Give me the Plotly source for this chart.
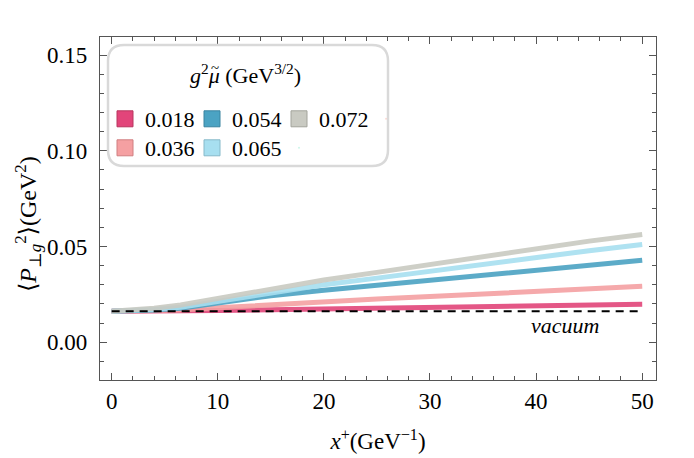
import plotly.graph_objects as go

# x+ grid (GeV^-1)
x_plus = [0, 2, 4, 6.5, 10, 15, 20, 25, 30, 35, 40, 45, 50]

# <P_perp g^2> (GeV^2) for each g^2 mu~
p_018 = [0.0162, 0.0162, 0.0163, 0.0164, 0.0166, 0.0170, 0.0174, 0.0178, 0.0183, 0.0187, 0.0192, 0.0195, 0.0198]
p_036 = [0.0162, 0.0163, 0.0165, 0.0169, 0.0180, 0.0197, 0.0213, 0.0226, 0.0239, 0.0252, 0.0266, 0.0279, 0.0292]
p_054 = [0.0162, 0.0164, 0.0168, 0.0177, 0.0204, 0.0243, 0.0272, 0.0298, 0.0322, 0.0350, 0.0376, 0.0402, 0.0428]
p_065 = [0.0162, 0.0165, 0.0171, 0.0183, 0.0215, 0.0260, 0.0300, 0.0335, 0.0372, 0.0408, 0.0443, 0.0478, 0.0511]
p_072 = [0.0162, 0.0168, 0.0178, 0.0195, 0.0228, 0.0275, 0.0325, 0.0365, 0.0405, 0.0445, 0.0490, 0.0528, 0.0563]
vacuum = [0.0162] * len(x_plus)

labels = ["0.018", "0.036", "0.054", "0.065", "0.072"]
series = [p_018, p_036, p_054, p_065, p_072]
colors = ["#e2457a", "#f5a0a2", "#4ba3c3", "#a7dff0", "#c9cac2"]
edges = ["#b8365f", "#d07f80", "#3a84a0", "#86b9c9", "#a3a49c"]
# which legend row each entry sits in (column-major layout of the original)
rows = ["legend", "legend2", "legend", "legend2", "legend"]

FONT = "'Liberation Serif', 'DejaVu Serif', serif"

# page body has an 8px margin, so the figure is a bit smaller than the window
OFF = 8
W, H = 694 - OFF, 458 - OFF
ml, mr, mt, mb = 100 - OFF, 38, 37 - OFF, 78
pw, ph = W - ml - mr, H - mt - mb
def px(x): return (x - OFF - ml) / pw        # screen px -> paper
def py(y): return (H - mb - (y - OFF)) / ph

fig = go.Figure()

for lab, ys, col in zip(labels, series, colors):
    fig.add_trace(go.Scatter(x=x_plus, y=ys, mode="lines", line=dict(color=col, width=5),
                             opacity=0.9, showlegend=False))

fig.add_trace(go.Scatter(x=x_plus, y=vacuum, mode="lines", showlegend=False,
                         line=dict(color="black", width=2, dash="8px,6px")))

# legend swatches
for lab, col, ed, lg in zip(labels, colors, edges, rows):
    fig.add_trace(go.Scatter(x=[None], y=[None], mode="markers", name=lab, legend=lg,
                             marker=dict(symbol="square", size=16, color=col,
                                         line=dict(color=ed, width=1))))
# blank entries so the last label of each row is not clipped
for lg in ["legend", "legend2"]:
    fig.add_trace(go.Scatter(x=[None], y=[None], mode="markers", name=" ", legend=lg,
                             marker=dict(size=1, opacity=0)))

fig.add_annotation(x=42.7, y=0.0085, text="<i>vacuum</i>", showarrow=False,
                   font=dict(family=FONT, size=22, color="black"))

# rounded legend frame
x0, x1, y0, y1, r = 108, 388, 45, 166, 16
path = (f"M {px(x0 + r)},{py(y0)} L {px(x1 - r)},{py(y0)} "
        f"Q {px(x1)},{py(y0)} {px(x1)},{py(y0 + r)} L {px(x1)},{py(y1 - r)} "
        f"Q {px(x1)},{py(y1)} {px(x1 - r)},{py(y1)} L {px(x0 + r)},{py(y1)} "
        f"Q {px(x0)},{py(y1)} {px(x0)},{py(y1 - r)} L {px(x0)},{py(y0 + r)} "
        f"Q {px(x0)},{py(y0)} {px(x0 + r)},{py(y0)} Z")
fig.add_shape(type="path", path=path, xref="paper", yref="paper",
              line=dict(color="#d9d9d9", width=2.5), fillcolor="white", layer="above")

# legend title, with the tilde set over mu by hand
fig.add_annotation(xref="paper", yref="paper", x=px(188), y=py(58), xanchor="left",
                   text="<i>g</i><sup>2</sup><i>μ</i> (GeV<sup>3/2</sup>)", showarrow=False,
                   font=dict(family=FONT, size=22, color="black"))
fig.add_annotation(xref="paper", yref="paper", x=px(215), y=py(68), xanchor="center",
                   yanchor="middle", text="~", showarrow=False,
                   font=dict(family=FONT, size=15, color="black"))

# y axis title
fig.add_annotation(xref="paper", yref="paper", x=px(28), y=py(224), textangle=-90,
                   xanchor="center", yanchor="middle",
                   text="⟨<i>P</i><sub>⊥<i>g</i></sub><sup>2</sup>⟩(GeV<sup>2</sup>)",
                   showarrow=False, font=dict(family=FONT, size=24, color="black"))

fig.update_layout(
    width=W, height=H,
    margin=dict(l=ml, r=mr, t=mt, b=mb),
    plot_bgcolor="white", paper_bgcolor="white",
    font=dict(family=FONT, size=22, color="black"),
    legend=dict(orientation="h", x=px(105), y=py(98), xanchor="left", yanchor="top",
                entrywidth=42, bgcolor="rgba(0,0,0,0)", font=dict(family=FONT, size=22),
                itemsizing="trace", itemclick=False, itemdoubleclick=False),
    legend2=dict(orientation="h", x=px(105), y=py(127), xanchor="left", yanchor="top",
                 entrywidth=42, bgcolor="rgba(0,0,0,0)", font=dict(family=FONT, size=22),
                 itemsizing="trace", itemclick=False, itemdoubleclick=False),
)

axis_common = dict(showgrid=False, zeroline=False, showline=True, linecolor="#555555",
                   linewidth=1.3, mirror="ticks", ticks="inside", ticklen=7, tickwidth=1,
                   tickcolor="#555555", automargin=False,
                   tickfont=dict(family=FONT, size=23, color="black"))
fig.update_xaxes(range=[-1.1, 51.3], tickvals=[0, 10, 20, 30, 40, 50],
                 minor=dict(dtick=2, ticks="inside", ticklen=4, tickcolor="#555555"),
                 title=dict(text="<i>x</i><sup>+</sup>(GeV<sup>−1</sup>)", standoff=20,
                            font=dict(family=FONT, size=23)),
                 **axis_common)
fig.update_yaxes(range=[-0.0197, 0.1594], tickvals=[0, 0.05, 0.10, 0.15], tickformat=".2f",
                 ticklabelstandoff=7,
                 minor=dict(dtick=0.01, ticks="inside", ticklen=4, tickcolor="#555555"),
                 **axis_common)

fig.write_html("out.html")
